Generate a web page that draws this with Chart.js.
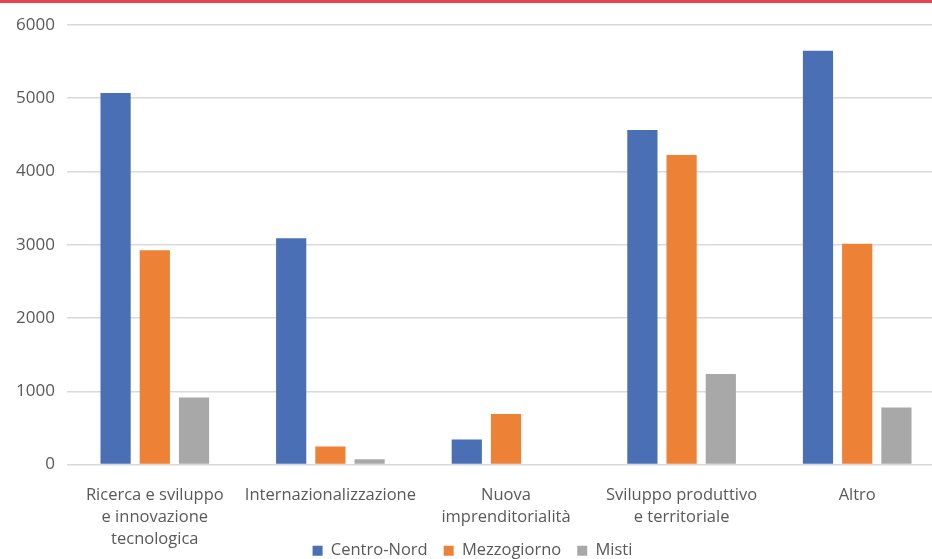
<!DOCTYPE html>
<html>
<head>
<meta charset="utf-8">
<script src="https://cdn.jsdelivr.net/npm/chart.js@4/dist/chart.umd.min.js"></script>
<style>
  html, body { margin: 0; padding: 0; background: #fff; overflow: hidden; width: 932px; height: 559px; }
  #bar { position: absolute; left: 0; top: 0; width: 932px; height: 3px; background: #e8434f; }
  #wrap { position: absolute; left: 0; top: 0; width: 945px; height: 569px; }
</style>
</head>
<body>
<div id="wrap"><canvas id="c" width="945" height="569"></canvas></div>
<div id="bar"></div>
<script>
const categories = [
  ["Ricerca e sviluppo", "e innovazione", "tecnologica"],
  "Internazionalizzazione",
  ["Nuova", "imprenditorialità"],
  ["Sviluppo produttivo", "e territoriale"],
  "Altro"
];
const seriesNames = ["Centro-Nord", "Mezzogiorno", "Misti"];
const centroNord = [5070, 3090, 340, 4565, 5650];
const mezzogiorno = [2925, 245, 690, 4225, 3015];
const misti = [915, 72, 0, 1235, 778];
const yTicks = [0, 1000, 2000, 3000, 4000, 5000, 6000];
const colors = ["#4a6fb4", "#ed8236", "#a8a8a8"];

const fam = "'Open Sans', 'Liberation Sans', sans-serif";
const font = { family: fam, size: 16.5, lineHeight: 1.32 };

new Chart(document.getElementById('c'), {
  type: 'bar',
  data: {
    labels: categories,
    datasets: [centroNord, mezzogiorno, misti].map((d, i) => ({
      label: seriesNames[i],
      data: d,
      backgroundColor: colors[i],
      categoryPercentage: 0.67,
      barPercentage: 0.77
    }))
  },
  options: {
    responsive: false,
    animation: false,
    devicePixelRatio: 1,
    layout: { padding: { top: 25, right: 0, left: 0, bottom: 0 } },
    plugins: {
      legend: {
        position: 'bottom',
        labels: {
          boxWidth: 10, boxHeight: 10, padding: 16,
          color: '#595959', font: { family: fam, size: 16.5 }
        }
      },
      tooltip: { enabled: false }
    },
    scales: {
      x: {
        grid: { display: false },
        border: { display: false },
        afterFit: (s) => { s.height = 62; s._computeLabelArea = () => undefined; },
        ticks: { color: '#595959', font: font, maxRotation: 0, autoSkip: false, padding: 12 }
      },
      y: {
        min: 0, max: 6000,
        afterBuildTicks: (s) => { s.ticks = yTicks.map(v => ({ value: v })); },
        afterFit: (s) => { s.width = 67; },
        grid: { color: '#d9d9d9', lineWidth: 1.5, drawTicks: false },
        border: { display: false },
        ticks: { color: '#595959', font: { family: fam, size: 17 }, padding: 12, callback: (v) => String(v) }
      }
    }
  }
});
</script>
</body>
</html>
